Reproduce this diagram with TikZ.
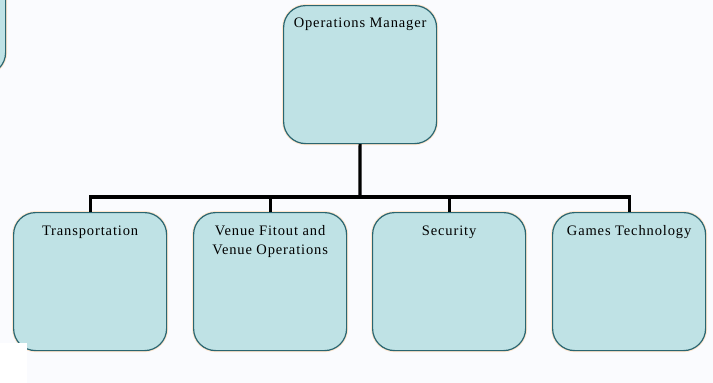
\documentclass[tikz,border=0pt]{standalone}
\usepackage{fontspec}
\setmainfont{Liberation Serif}[LetterSpace=6]
\definecolor{boxfill}{HTML}{BFE2E5}
\definecolor{boxline}{HTML}{2A6570}
\definecolor{paper}{HTML}{FAFBFE}
\tikzset{
  unit/.style={draw=boxline, fill=boxfill, rounded corners=22pt, line width=1.2pt,
    inner sep=0pt, anchor=north west, font=\fontsize{14.5}{19}\selectfont,
    preaction={draw=orange!20, line width=3pt}},
  link/.style={line width=3.2pt, black}
}
\newcommand{\unittext}[1]{\parbox[c][138pt][t]{153pt}{\centering\rule{0pt}{23pt}#1}}
\begin{document}
\begin{tikzpicture}[x=1pt,y=-1pt]
\fill[paper] (0,0) rectangle (713,383);
\useasboundingbox (0,0) rectangle (713,383);
\clip (0,0) rectangle (713,383);
\node[unit] (vL) at (-148,-64) {\unittext{}};
\node[unit] (v0) at (283,5) {\parbox[c][138pt][t]{153pt}{\centering\rule{0pt}{22pt}Operations Manager}};
\node[unit] (v1) at (13,212) {\unittext{Transportation}};
\node[unit] (v2) at (193,212) {\unittext{Venue Fitout and\\Venue Operations}};
\node[unit] (v3) at (372,212) {\unittext{Security}};
\node[unit] (v4) at (552,212) {\unittext{Games Technology}};
\coordinate (j0) at (360,197);
\draw[link] (v0.south) -- (j0);
\draw[link] (v1.north) |- (j0) -| (v4.north);
\draw[link] (v2.north) -- (v2.north |- j0);
\draw[link] (v3.north) -- (v3.north |- j0);
\fill[white] (0,343) rectangle (27,383);
\end{tikzpicture}
\end{document}
